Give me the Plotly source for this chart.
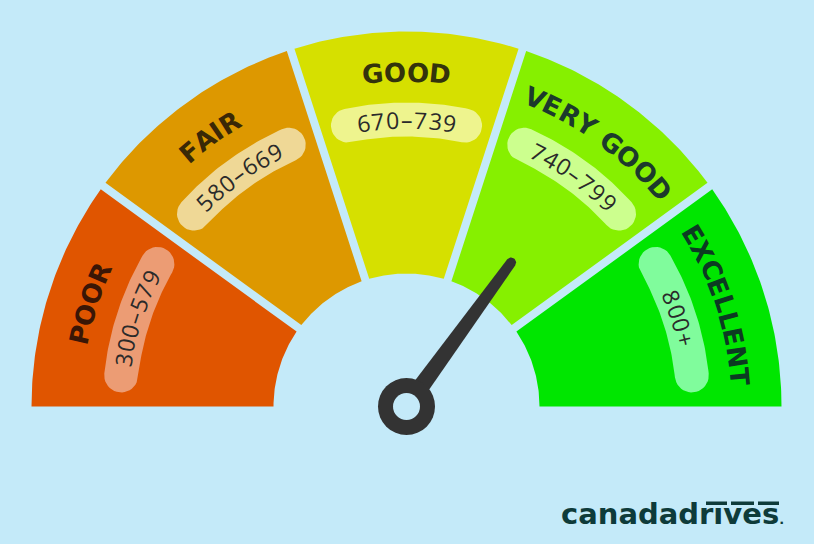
import math
import plotly.graph_objects as go

# ---------------- data ----------------
categories = ["POOR", "FAIR", "GOOD", "VERY GOOD", "EXCELLENT"]
score_ranges = ["300–579", "580–669", "670–739", "740–799", "800+"]
range_low = [300, 580, 670, 740, 800]
range_high = [580, 670, 740, 800, 850]
needle_score = 770

seg_colors = ["#E05500", "#DD9800", "#D6E000", "#86F000", "#00E600"]
pill_colors = ["#EC9C74", "#EFD896", "#EEF48E", "#CCFF8E", "#80FC9C"]
label_colors = ["#3A1606", "#3A2806", "#33330C", "#1C3A2C", "#0C3A22"]
BG = "#C4EAF9"
brand_name = "canadadrıves"

# ---------------- geometry ----------------
W, H = 814, 544
CX, CY = 406.5, 406.5
R_OUT, R_IN, GAP = 375, 133, 8
R_LABEL, R_PILL = 334, 287
PILL_H, PILL_LEN = 17, 152
N = len(categories)
SPAN = 180.0 / N


def pt(r, deg):
    a = math.radians(deg)
    return CX + r * math.cos(a), CY - r * math.sin(a)


def arc(r, d0, d1, n=60):
    xs, ys = [], []
    for k in range(n + 1):
        x, y = pt(r, d0 + (d1 - d0) * k / n)
        xs.append(x)
        ys.append(y)
    return xs, ys


fig = go.Figure()

# segments
for i in range(N):
    a0 = 180 - SPAN * i
    a1 = 180 - SPAN * (i + 1)
    do = math.degrees(math.asin(GAP / 2 / R_OUT))
    di = math.degrees(math.asin(GAP / 2 / R_IN))
    s_o = a0 - (do if i > 0 else 0)
    e_o = a1 + (do if i < N - 1 else 0)
    s_i = a0 - (di if i > 0 else 0)
    e_i = a1 + (di if i < N - 1 else 0)
    xo, yo = arc(R_OUT, s_o, e_o)
    xi, yi = arc(R_IN, e_i, s_i)
    fig.add_trace(go.Scatter(x=xo + xi + [xo[0]], y=yo + yi + [yo[0]], mode="lines",
                             fill="toself", fillcolor=seg_colors[i],
                             line=dict(width=0, color=seg_colors[i]), hoverinfo="skip"))

# pills
for i in range(N):
    tm = 180 - SPAN * (i + 0.5)
    alpha = math.degrees(((PILL_LEN - 2 * PILL_H) / 2) / R_PILL)
    ts, te = tm + alpha, tm - alpha
    xs, ys = arc(R_PILL + PILL_H, ts, te, 40)
    ae = math.radians(te)
    cxe, cye = R_PILL * math.cos(ae), R_PILL * math.sin(ae)
    u = (math.cos(ae), math.sin(ae))
    t = (math.sin(ae), -math.cos(ae))
    for k in range(1, 20):
        ph = math.pi * k / 20
        mx = cxe + PILL_H * (math.cos(ph) * u[0] + math.sin(ph) * t[0])
        my = cye + PILL_H * (math.cos(ph) * u[1] + math.sin(ph) * t[1])
        xs.append(CX + mx)
        ys.append(CY - my)
    xi, yi = arc(R_PILL - PILL_H, te, ts, 40)
    xs += xi
    ys += yi
    as_ = math.radians(ts)
    cxs, cys = R_PILL * math.cos(as_), R_PILL * math.sin(as_)
    u = (math.cos(as_), math.sin(as_))
    t = (-math.sin(as_), math.cos(as_))
    for k in range(1, 20):
        ph = math.pi * k / 20
        mx = cxs + PILL_H * (-math.cos(ph) * u[0] + math.sin(ph) * t[0])
        my = cys + PILL_H * (-math.cos(ph) * u[1] + math.sin(ph) * t[1])
        xs.append(CX + mx)
        ys.append(CY - my)
    xs.append(xs[0])
    ys.append(ys[0])
    fig.add_trace(go.Scatter(x=xs, y=ys, mode="lines", fill="toself",
                             fillcolor=pill_colors[i], line=dict(width=0, color=pill_colors[i]),
                             hoverinfo="skip"))

# needle
seg = 0
for i in range(N):
    if range_low[i] <= needle_score < range_high[i]:
        seg = i
pos = seg + (needle_score - range_low[seg]) / (range_high[seg] - range_low[seg])
nang = math.radians(180 - SPAN * pos)
L, HW0, HW1 = 178, 9, 5
d = (math.cos(nang), math.sin(nang))
nv = (-math.sin(nang), math.cos(nang))
nx, ny = [], []


def add(mx, my):
    nx.append(CX + mx)
    ny.append(CY - my)


add(HW0 * nv[0], HW0 * nv[1])
add(-HW0 * nv[0], -HW0 * nv[1])
tipx, tipy = L * d[0], L * d[1]
for k in range(0, 21):
    ph = math.pi * k / 20
    mx = tipx + HW1 * (-math.cos(ph) * nv[0] + math.sin(ph) * d[0])
    my = tipy + HW1 * (-math.cos(ph) * nv[1] + math.sin(ph) * d[1])
    add(mx, my)
nx.append(nx[0])
ny.append(ny[0])
fig.add_trace(go.Scatter(x=nx, y=ny, mode="lines", fill="toself", fillcolor="#333333",
                         line=dict(width=0, color="#333333"), hoverinfo="skip"))
fig.add_trace(go.Scatter(x=[CX], y=[CY], mode="markers",
                         marker=dict(size=57, color="#333333", line=dict(width=0)), hoverinfo="skip"))
fig.add_trace(go.Scatter(x=[CX], y=[CY], mode="markers",
                         marker=dict(size=27, color=BG, line=dict(width=0)), hoverinfo="skip"))

# ---------------- curved text ----------------
BOLD_W = {"A": 0.774, "C": 0.734, "D": 0.830, "E": 0.683, "F": 0.627, "G": 0.821, "I": 0.372,
          "L": 0.637, "N": 0.837, "O": 0.850, "P": 0.733, "R": 0.770, "T": 0.682, "V": 0.774,
          "Y": 0.724, " ": 0.348}
NUM_W = {"–": 0.50, "-": 0.32, "+": 0.572}


def curved(text, r, tmid, size, widths, default, font, track=0.0):
    ws = [widths.get(ch, default) * size + track for ch in text]
    total = sum(ws) - track
    cum = 0
    for ch, w in zip(text, ws):
        wc = w - track
        off = total / 2 - (cum + wc / 2)
        th = tmid + math.degrees(off / r)
        cum += w
        if ch == " ":
            continue
        x, y = pt(r, th)
        fig.add_annotation(x=x, y=y, text=ch, showarrow=False, xanchor="center",
                           yanchor="middle", textangle=90 - th, font=font)


for i in range(N):
    tm = 180 - SPAN * (i + 0.5)
    curved(categories[i], R_LABEL, tm, 26, BOLD_W, 0.75,
           dict(family="DejaVu Sans", size=26, color=label_colors[i], weight=700), track=0.5)
    curved(score_ranges[i], R_PILL, tm, 23, NUM_W, 0.572,
           dict(family="Open Sans", size=23, color="#2A2A2A", weight=400), track=1.6)

# logo
fig.add_annotation(x=559, y=514, xref="x", yref="y",
                   text=brand_name + "<span style='font-size:13px'>.</span>",
                   showarrow=False, xanchor="left", yanchor="middle",
                   font=dict(family="DejaVu Sans", size=29, color="#0E3B3A", weight=700))
for x0, x1 in [(706, 727), (731, 754), (758, 779)]:
    fig.add_shape(type="rect", x0=x0, x1=x1, y0=501.5, y1=505, xref="x", yref="y",
                  fillcolor="#0E3B3A", line=dict(width=0))

fig.update_layout(
    width=W, height=H, margin=dict(l=0, r=0, t=0, b=0),
    paper_bgcolor=BG, plot_bgcolor=BG, showlegend=False,
    xaxis=dict(range=[0, W], visible=False, fixedrange=True),
    yaxis=dict(range=[H, 0], visible=False, fixedrange=True),
)
fig.write_html("out.html")
